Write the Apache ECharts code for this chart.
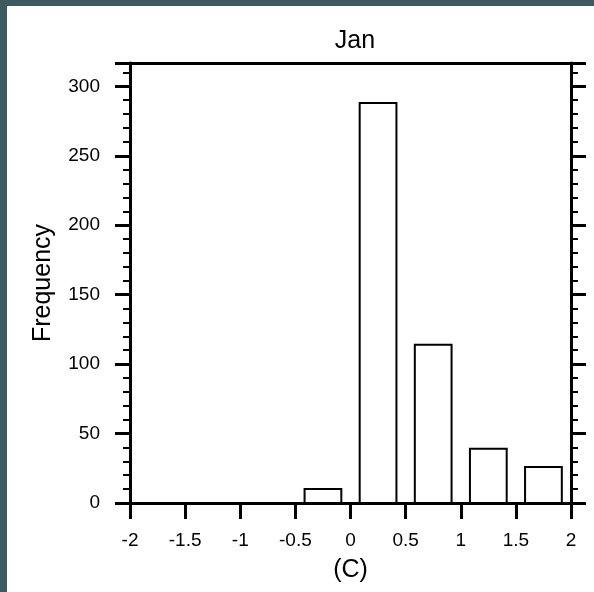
<!DOCTYPE html>
<html>
<head>
<meta charset="utf-8">
<script src="https://cdn.jsdelivr.net/npm/echarts@6/dist/echarts.min.js"></script>
<style>
  html, body { margin: 0; padding: 0; background: #3d5a5f; width: 594px; height: 592px; overflow: hidden; }
  #chart { position: absolute; left: 7px; top: 6px; width: 587px; height: 586px; background: #ffffff; }
</style>
</head>
<body>
<div id="chart"></div>
<script>
// January histogram of temperature change (C)
const binCenters = [-0.25, 0.25, 0.75, 1.25, 1.75];
const binCounts = [10, 288, 114, 39, 26];
const binWidth = 0.5;
const barFraction = 2 / 3;
const xTicks = [-2, -1.5, -1, -0.5, 0, 0.5, 1, 1.5, 2];
const yMax = 316.8;

const font = 'Liberation Sans, Arial, Helvetica, sans-serif';
const chart = echarts.init(document.getElementById('chart'), null, { renderer: 'canvas' });

const yAxisCommon = {
  type: 'value', min: 0, max: yMax, interval: 50,
  axisLine: { show: true, onZero: false, lineStyle: { color: '#000', width: 3 } },
  axisTick: { show: true, inside: false, length: 15, lineStyle: { color: '#000', width: 3 } },
  minorTick: { show: true, splitNumber: 5, length: 7, lineStyle: { color: '#000', width: 2 } },
  splitLine: { show: false },
  showMaxLabel: false
};

chart.setOption({
  animation: false,
  title: {
    text: 'Jan', left: 343, top: 18, textAlign: 'center',
    textStyle: { fontFamily: font, fontSize: 25, fontWeight: 'normal', color: '#000' }
  },
  grid: { left: 123, right: 23, top: 57, bottom: 89 },
  xAxis: [{
    type: 'value', min: xTicks[0], max: xTicks[xTicks.length - 1], interval: 0.5,
    name: '(C)', nameLocation: 'middle', nameGap: 55,
    nameTextStyle: { fontFamily: font, fontSize: 25, color: '#000' },
    axisLine: { show: true, onZero: false, lineStyle: { color: '#000', width: 3 } },
    axisTick: { show: true, inside: false, length: 16, lineStyle: { color: '#000', width: 3 } },
    axisLabel: { fontFamily: font, fontSize: 19, color: '#000', margin: 28 },
    splitLine: { show: false }
  }, {
    type: 'value', position: 'top', min: xTicks[0], max: xTicks[xTicks.length - 1],
    axisLine: { show: true, onZero: false, lineStyle: { color: '#000', width: 3 } },
    axisTick: { show: false }, axisLabel: { show: false }, splitLine: { show: false }
  }],
  yAxis: [Object.assign({}, yAxisCommon, {
    position: 'left',
    name: 'Frequency', nameLocation: 'middle', nameGap: 74,
    nameTextStyle: { fontFamily: font, fontSize: 25, color: '#000' },
    axisLabel: { fontFamily: font, fontSize: 19, color: '#000', margin: 30,
      formatter: v => (v % 50 === 0 ? String(v) : '') }
  }), Object.assign({}, yAxisCommon, {
    position: 'right',
    axisLabel: { show: false }
  })],
  series: [{
    type: 'custom',
    xAxisIndex: 0, yAxisIndex: 0,
    data: binCenters.map((c, i) => [c, binCounts[i]]),
    renderItem: function (params, api) {
      const c = api.value(0);
      const v = api.value(1);
      const half = binWidth * barFraction / 2;
      const p0 = api.coord([c - half, v]);
      const p1 = api.coord([c + half, 0]);
      return {
        type: 'rect',
        shape: { x: p0[0], y: p0[1], width: p1[0] - p0[0], height: p1[1] - p0[1] },
        style: { fill: '#fff', stroke: '#000', lineWidth: 2 }
      };
    },
    z: 1
  }]
});
</script>
</body>
</html>
